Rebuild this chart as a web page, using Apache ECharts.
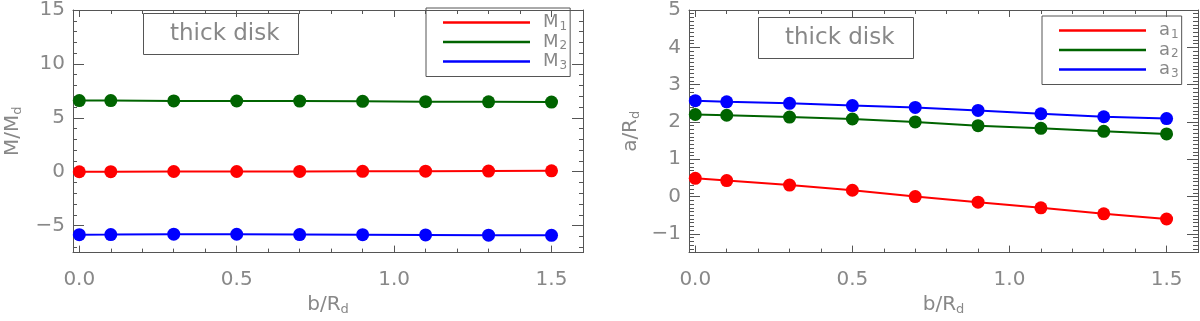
<!DOCTYPE html>
<html>
<head>
<meta charset="utf-8">
<script src="https://cdn.jsdelivr.net/npm/echarts@6/dist/echarts.min.js"></script>
<style>
  html, body { margin: 0; padding: 0; background: #fff; }
  #chart { width: 1200px; height: 321px; }
</style>
</head>
<body>
<div id="chart"></div>
<script>
// b/R_d sample points (same for both panels)
const bValues = [0.0, 0.1, 0.3, 0.5, 0.7, 0.9, 1.1, 1.3, 1.5];

// left panel: M_i / M_d
const m1 = [0.00, 0.01, 0.02, 0.02, 0.03, 0.04, 0.05, 0.06, 0.08];
const m2 = [6.60, 6.60, 6.57, 6.56, 6.55, 6.53, 6.50, 6.48, 6.46];
const m3 = [-5.84, -5.83, -5.79, -5.80, -5.83, -5.84, -5.86, -5.88, -5.90];

// right panel: a_i / R_d
const a1 = [0.49, 0.43, 0.31, 0.17, 0.00, -0.15, -0.30, -0.46, -0.60];
const a2 = [2.20, 2.18, 2.13, 2.08, 2.00, 1.90, 1.83, 1.75, 1.68];
const a3 = [2.57, 2.54, 2.50, 2.44, 2.39, 2.31, 2.22, 2.14, 2.09];

// tick labels
const xMajorTicks = [0.0, 0.5, 1.0, 1.5];
const mMajorTicks = [-5, 0, 5, 10, 15];
const aMajorTicks = [-1, 0, 1, 2, 3, 4, 5];

const FONT = "'DejaVu Sans ExtraLight', 'DejaVu Sans', sans-serif";
const FRAME = '#555';
const TEXT = '#888';
const COLORS = ['#ff0000', '#006400', '#0000ff'];

// minor tick positions between from..to, skipping the major ones
function minorTicks(from, to, step, majors) {
    const out = [];
    const n = Math.round((to - from) / step);
    for (let i = 0; i <= n; i++) {
        const v = Math.round((from + i * step) * 1000) / 1000;
        if (majors.indexOf(v) < 0) out.push(v);
    }
    return out;
}

const xMinor = minorTicks(0.0, 1.6, 0.1, xMajorTicks);
const mMinor = minorTicks(-7, 14, 1, mMajorTicks);
const aMinor = minorTicks(-1.4, 4.9, 0.1, aMajorTicks);

const minus = v => String(v).replace('-', '\u2212');

// one axis with major ticks (+ optional labels) and one with minor ticks only
function axisPair(grid, position, min, max, majors, minors, majorLen, minorLen, label, extra) {
    const base = {
        type: 'value', gridIndex: grid, position: position,
        min: min, max: max, splitLine: { show: false }
    };
    const major = Object.assign({}, base, {
        axisLine: { show: true, onZero: false, lineStyle: { color: FRAME, width: 1 } },
        axisTick: { show: true, inside: true, length: majorLen, customValues: majors,
                    lineStyle: { color: FRAME, width: 1 } },
        axisLabel: label ? Object.assign({ show: true, customValues: majors, color: TEXT,
                    fontFamily: FONT, fontSize: 20 }, label) : { show: false }
    }, extra || {});
    const minor = Object.assign({}, base, {
        axisLine: { show: false, onZero: false },
        axisTick: { show: true, inside: true, length: minorLen, customValues: minors,
                    lineStyle: { color: FRAME, width: 1 } },
        axisLabel: { show: false }
    });
    return [major, minor];
}

const nameStyle = {
    color: TEXT, fontFamily: FONT,
    rich: {
        n: { fontSize: 20, color: TEXT, fontFamily: FONT },
        s: { fontSize: 13, color: TEXT, fontFamily: FONT, padding: [10, 0, 0, 0] }
    }
};

function xAxesFor(grid) {
    return [].concat(
        axisPair(grid, 'bottom', -0.02, 1.6, xMajorTicks, xMinor, 7, 4,
            { margin: 17, formatter: v => v.toFixed(1) },
            { name: '{n|b/R}{s|d}', nameLocation: 'middle', nameGap: 37, nameTextStyle: nameStyle }),
        axisPair(grid, 'top', -0.02, 1.6, xMajorTicks, xMinor, 7, 4, null)
    );
}

const xAxes = xAxesFor(0).concat(xAxesFor(1));
const yAxes = [].concat(
    axisPair(0, 'left', -7.5, 15, mMajorTicks, mMinor, 11, 4,
        { margin: 8, formatter: minus },
        { name: '{n|M/M}{s|d}', nameLocation: 'middle', nameGap: 49, nameRotate: 90, nameTextStyle: nameStyle }),
    axisPair(0, 'right', -7.5, 15, mMajorTicks, mMinor, 11, 4, null),
    axisPair(1, 'left', -1.5, 5, aMajorTicks, aMinor, 11, 5,
        { margin: 8, formatter: minus },
        { name: '{n|a/R}{s|d}', nameLocation: 'middle', nameGap: 47, nameRotate: 90, nameTextStyle: nameStyle }),
    axisPair(1, 'right', -1.5, 5, aMajorTicks, aMinor, 11, 5, null)
);

function lineSeries(name, values, color, axisIndex) {
    return {
        name: name, type: 'line', xAxisIndex: axisIndex, yAxisIndex: axisIndex,
        data: bValues.map((b, i) => [b, values[i]]),
        symbol: 'circle', symbolSize: 13,
        itemStyle: { color: color },
        lineStyle: { color: color, width: 2 },
        emphasis: { disabled: true }
    };
}

function legendFor(names, left, top) {
    return {
        data: names, orient: 'vertical', left: left, top: top,
        icon: 'rect', itemWidth: 87, itemHeight: 2.5, itemGap: 0,
        padding: [5, 3, 5, 17], borderColor: FRAME, borderWidth: 1,
        selectedMode: false,
        formatter: name => '{b|' + name[0] + '}{s|' + name[1] + '}',
        textStyle: {
            lineHeight: 19,
            rich: {
                b: { fontSize: 18, color: TEXT, fontFamily: FONT, padding: [0, 0, 0, 8] },
                s: { fontSize: 12, color: TEXT, fontFamily: FONT, padding: [8, 0, 0, 1] }
            }
        }
    };
}

function boxLabel(left, top, padRight) {
    return {
        text: 'thick disk', left: left, top: top,
        borderColor: FRAME, borderWidth: 1, padding: [9, padRight, 9, 27],
        textStyle: { fontSize: 23, lineHeight: 24, fontWeight: 'normal', color: TEXT, fontFamily: FONT }
    };
}

const chart = echarts.init(document.getElementById('chart'));
chart.setOption({
    animation: false,
    backgroundColor: '#fff',
    title: [boxLabel(143, 13, 19), boxLabel(758, 17, 19)],
    legend: [legendFor(['M1', 'M2', 'M3'], 426, 8), legendFor(['a1', 'a2', 'a3'], 1042, 16)],
    grid: [
        { left: 73, right: 617, top: 1, bottom: 62 },
        { left: 689, right: 2, top: 1, bottom: 62 }
    ],
    xAxis: xAxes,
    yAxis: yAxes,
    series: [
        lineSeries('M1', m1, COLORS[0], 0),
        lineSeries('M2', m2, COLORS[1], 0),
        lineSeries('M3', m3, COLORS[2], 0),
        lineSeries('a1', a1, COLORS[0], 4),
        lineSeries('a2', a2, COLORS[1], 4),
        lineSeries('a3', a3, COLORS[2], 4)
    ]
});
</script>
</body>
</html>
